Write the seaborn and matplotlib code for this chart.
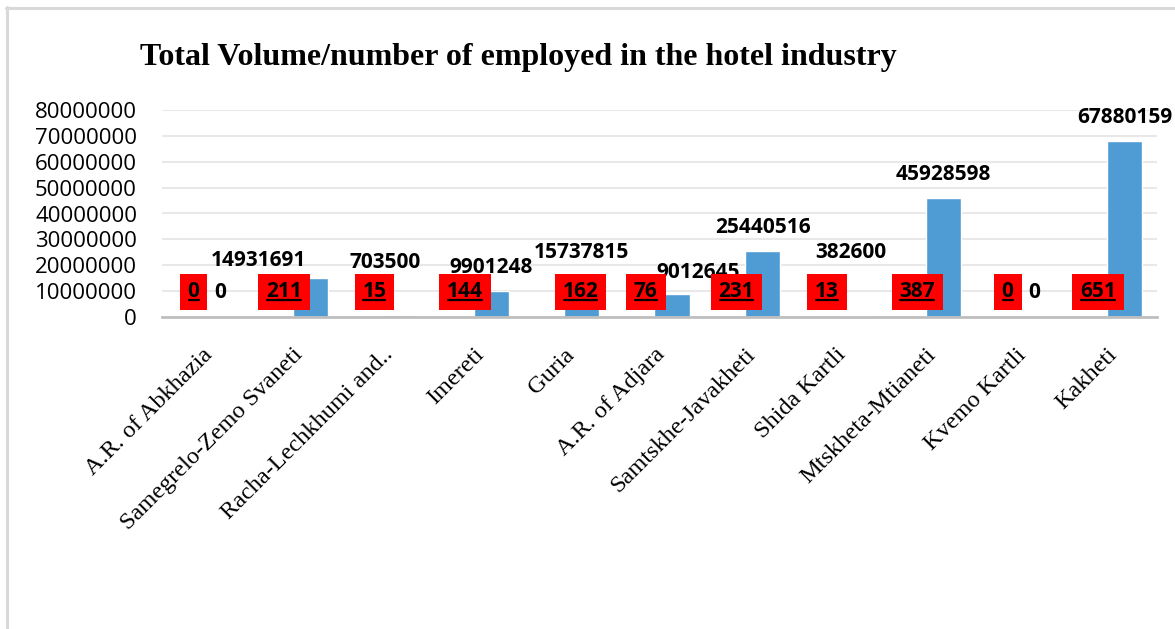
import matplotlib
matplotlib.use("Agg")
import matplotlib.pyplot as plt
from matplotlib.lines import Line2D
from matplotlib.transforms import ScaledTranslation
import pandas as pd
import seaborn as sns

# Data
regions = ["A.R. of Abkhazia", "Samegrelo-Zemo Svaneti", "Racha-Lechkhumi and..",
           "Imereti", "Guria", "A.R. of Adjara", "Samtskhe-Javakheti",
           "Shida Kartli", "Mtskheta-Mtianeti", "Kvemo Kartli", "Kakheti"]
employed = [0, 211, 15, 144, 162, 76, 231, 13, 387, 0, 651]
volume = [0, 14931691, 703500, 9901248, 15737815, 9012645, 25440516,
          382600, 45928598, 0, 67880159]
series_names = ["Number of employed", "Total volume"]
y_ticks = [0, 10000000, 20000000, 30000000, 40000000,
           50000000, 60000000, 70000000, 80000000]

df = pd.DataFrame({
    "region": regions * 2,
    "series": [series_names[0]] * len(regions) + [series_names[1]] * len(regions),
    "value": employed + volume,
})

sns.set_style("white")
plt.rcParams["font.family"] = ["Open Sans", "DejaVu Sans"]
plt.rcParams["text.color"] = "black"
plt.rcParams["xtick.color"] = "black"
plt.rcParams["ytick.color"] = "black"

PX = 0.72  # points per pixel at dpi 100

fig = plt.figure(figsize=(11.75, 6.29), dpi=100)
ax = fig.add_axes([162 / 1175, 1 - 317 / 629, 995 / 1175, 207 / 629])

sns.barplot(data=df, x="region", y="value", hue="series",
            palette=["#ED7D31", "#4F9BD4"], width=0.78, gap=0,
            saturation=1, errorbar=None, legend=False, ax=ax)

shift = 5 / 90.45
ax.set_xlim(-0.5 + shift, len(regions) - 0.5 + shift)
ax.set_ylim(0, 80000000)
ax.set_yticks(y_ticks)
ax.set_yticklabels([str(t) for t in y_ticks])
ax.set_xlabel("")
ax.set_ylabel("")

ax.yaxis.grid(True, color="#E8E8E8", lw=1.5)
ax.set_axisbelow(True)
for s in ["top", "right", "left"]:
    ax.spines[s].set_visible(False)
ax.spines["bottom"].set_color("#BFBFBF")
ax.spines["bottom"].set_linewidth(2)

ax.tick_params(axis="y", length=0, pad=18, labelsize=16)
ax.tick_params(axis="x", length=0, pad=25)
ax.set_xticks(range(len(regions)))
ax.set_xticklabels(regions, rotation=45, ha="right", va="center",
                   rotation_mode="anchor", family="Liberation Serif", fontsize=17.5)
offset = ScaledTranslation(7 / 100, 0, fig.dpi_scale_trans)
for lab in ax.get_xticklabels():
    lab.set_transform(lab.get_transform() + offset)

# volume labels (some were moved by hand in the original)
vol_nudge = {1: (-52, -6), 2: (-16, 29), 5: (26, -3), 7: (-2, 40)}
for i, bar in enumerate(ax.containers[1]):
    x = bar.get_x() + bar.get_width() / 2
    dx, dy = vol_nudge.get(i, (0, 0))
    ax.annotate(str(volume[i]), (x, bar.get_height()),
                xytext=(dx * PX, (24 + dy) * PX), textcoords="offset points",
                ha="center", va="center", fontsize=15, fontweight="bold",
                annotation_clip=False)

# employed labels in red boxes
emp_nudge = {4: 25}
emp_texts = []
for i, bar in enumerate(ax.containers[0]):
    x = bar.get_x() + bar.get_width() / 2
    t = ax.annotate(str(employed[i]), (x, 0),
                    xytext=((9 + emp_nudge.get(i, 0)) * PX, 25 * PX),
                    textcoords="offset points", ha="center", va="center",
                    fontsize=15, fontweight="bold",
                    bbox=dict(boxstyle="square,pad=0.38", fc="#FF0000", ec="none"))
    emp_texts.append(t)

fig.text(140 / 1175, 1 - 65 / 629,
         "Total Volume/number of employed in the hotel industry",
         family="Liberation Serif", fontweight="bold", fontsize=23, va="baseline")

# chart area border (top and left edges visible)
fig.add_artist(Line2D([6 / 1175, 1], [1 - 7.5 / 629] * 2,
                      transform=fig.transFigure, color="#D9D9D9", lw=2.2))
fig.add_artist(Line2D([6.5 / 1175] * 2, [0, 1 - 7 / 629],
                      transform=fig.transFigure, color="#D9D9D9", lw=2.2))

# underline the red-box numbers
fig.canvas.draw()
r = fig.canvas.get_renderer()
for t in emp_texts:
    bb = t.get_window_extent(r)
    y = bb.y0 + 0.1 * bb.height
    fig.add_artist(Line2D([bb.x0 + 1, bb.x1 - 1], [y, y], transform=None,
                          color="black", lw=1.6))

fig.savefig("out.png", dpi=100)
